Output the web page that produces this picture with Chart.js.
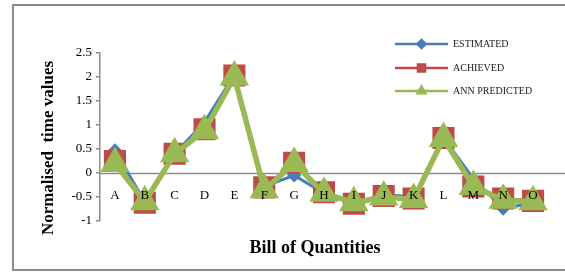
<!DOCTYPE html>
<html>
<head>
<meta charset="utf-8">
<script src="https://cdn.jsdelivr.net/npm/chart.js@4"></script>
<style>
  body { margin: 0; background: #fff; }
  #wrap { position: relative; width: 565px; height: 273px; overflow: hidden; }
  #frame { position: absolute; left: 12px; top: 4px; width: 600px; height: 263px; border: 2px solid #8c8c8c; }
  canvas { position: absolute; left: 0; top: 0; }
</style>
</head>
<body>
<div id="wrap">
  <div id="frame"></div>
  <canvas id="boq_chart" width="565" height="273"></canvas>
</div>
<script>
var categories = ['A', 'B', 'C', 'D', 'E', 'F', 'G', 'H', 'I', 'J', 'K', 'L', 'M', 'N', 'O'];
var estimated = [0.47, -0.6, 0.4, 1.06, 2.05, -0.28, -0.05, -0.42, -0.63, -0.45, -0.5, 0.73, -0.12, -0.74, -0.62];
var achieved = [0.25, -0.62, 0.4, 0.91, 2.03, -0.3, 0.21, -0.4, -0.64, -0.48, -0.53, 0.73, -0.28, -0.53, -0.58];
var annPredicted = [0.2, -0.6, 0.4, 0.88, 2.0, -0.35, 0.2, -0.42, -0.62, -0.5, -0.55, 0.72, -0.28, -0.57, -0.6];
var yTicks = { min: -1, max: 2.5, step: 0.5 };

var serif = "'Liberation Serif', 'Times New Roman', serif";
var blue = '#4a7ebb', red = '#be4b48', green = '#98b954';

// legend + axis titles drawn by hand, Excel style
var extrasPlugin = {
  id: 'extras',
  afterDraw: function(chart) {
    var ctx = chart.ctx;
    ctx.save();

    // titles
    ctx.fillStyle = '#000';
    ctx.font = 'bold 18px ' + serif;
    ctx.textAlign = 'center';
    ctx.textBaseline = 'middle';
    ctx.fillText('Bill of Quantities', 315, 248);
    ctx.save();
    ctx.translate(49, 148);
    ctx.rotate(-Math.PI / 2);
    ctx.font = 'bold 17px ' + serif;
    ctx.fillText('Normalised  time values', 0, 0);
    ctx.restore();

    // legend
    var rows = [
      { label: 'ESTIMATED', color: blue, style: 'rectRot', r: 4, y: 44 },
      { label: 'ACHIEVED', color: red, style: 'rect', r: 5, y: 68 },
      { label: 'ANN PREDICTED', color: green, style: 'triangle', r: 4.5, y: 91 }
    ];
    rows.forEach(function(row) {
      ctx.strokeStyle = row.color;
      ctx.lineWidth = 2.5;
      ctx.beginPath();
      ctx.moveTo(395, row.y);
      ctx.lineTo(448, row.y);
      ctx.stroke();
      ctx.fillStyle = row.color;
      Chart.helpers.drawPoint(ctx, { pointStyle: row.style, radius: row.r, borderWidth: 1 }, 421.5, row.y);
      ctx.fill();
      ctx.fillStyle = '#1a1a1a';
      ctx.font = '10px ' + serif;
      ctx.textAlign = 'left';
      ctx.fillText(row.label, 453, row.y + 0.5);
    });
    ctx.restore();
  },
  beforeDatasetsDraw: function(chart) {
    // zero line runs under the series to the right edge
    var ctx = chart.ctx;
    var zy = Math.round(chart.scales.y.getPixelForValue(0)) + 0.5;
    ctx.save();
    ctx.strokeStyle = '#8c8c8c';
    ctx.lineWidth = 1.5;
    ctx.beginPath();
    ctx.moveTo(chart.chartArea.left, zy);
    ctx.lineTo(565, zy);
    ctx.stroke();
    ctx.restore();
  }
};

var config = {
  type: 'line',
  data: {
    labels: categories,
    datasets: [{
      label: 'ESTIMATED',
      data: estimated,
      borderColor: blue,
      backgroundColor: blue,
      borderWidth: 3,
      pointStyle: 'rectRot',
      pointRadius: 5,
      pointBorderColor: blue,
      order: 3
    }, {
      label: 'ACHIEVED',
      data: achieved,
      borderColor: red,
      backgroundColor: red,
      borderWidth: 3,
      pointStyle: 'rect',
      pointRadius: 13.5,
      pointBorderColor: red,
      order: 2
    }, {
      label: 'ANN PREDICTED',
      data: annPredicted,
      borderColor: green,
      backgroundColor: green,
      borderWidth: 5.5,
      pointStyle: 'triangle',
      pointRadius: 11.5,
      pointBorderColor: green,
      order: 1
    }]
  },
  options: {
    responsive: false,
    animation: false,
    devicePixelRatio: 1,
    layout: {
      padding: { left: 0, right: 1, top: 53, bottom: 52 }
    },
    plugins: {
      legend: { display: false },
      title: { display: false },
      tooltip: { enabled: false }
    },
    scales: {
      x: {
        position: { y: 0 },
        offset: true,
        grid: { display: false },
        border: { display: false },
        ticks: {
          z: 1,
          color: '#000',
          padding: 7,
          maxRotation: 0,
          autoSkip: false,
          font: { family: serif, size: 13 }
        }
      },
      y: {
        min: yTicks.min,
        max: yTicks.max,
        afterFit: function(scale) { scale.width = 100; },
        grid: { drawOnChartArea: false, drawTicks: true, tickLength: 4, color: '#8c8c8c', lineWidth: 1.5 },
        border: { display: true, color: '#8c8c8c', width: 1.5 },
        ticks: {
          stepSize: yTicks.step,
          color: '#000',
          padding: 4,
          font: { family: serif, size: 13 },
          callback: function(value) { return String(Number(value.toFixed(2))); }
        }
      }
    }
  },
  plugins: [extrasPlugin]
};

window.onload = function() {
  var ctx = document.getElementById('boq_chart').getContext('2d');
  var chart = new Chart(ctx, config);
};
</script>
</body>
</html>
